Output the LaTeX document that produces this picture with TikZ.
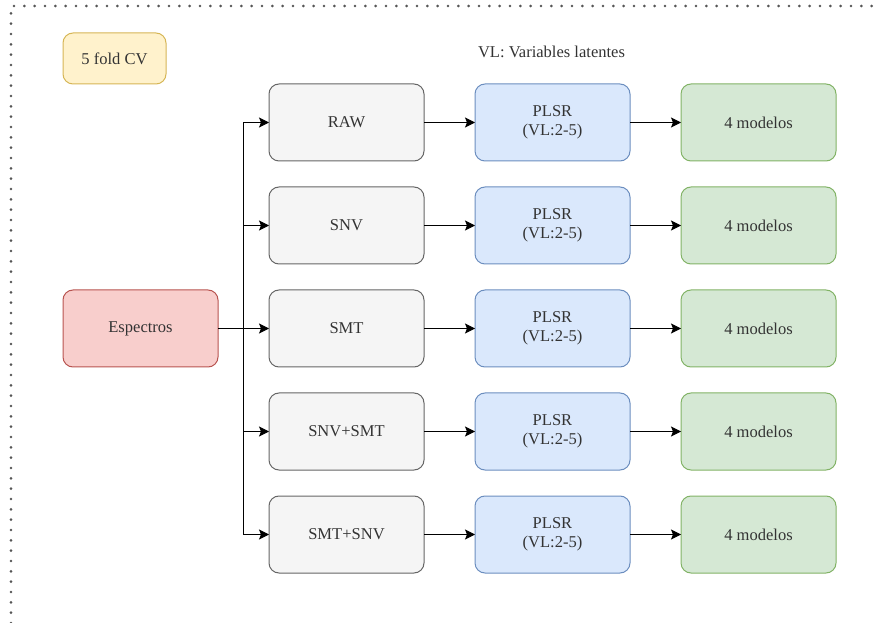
\documentclass[tikz,border=0pt]{standalone}
\usepackage{fontspec}
\setmainfont{Liberation Serif}
\usetikzlibrary{arrows.meta}
\definecolor{grayfill}{HTML}{F5F5F5}
\definecolor{graystroke}{HTML}{666666}
\definecolor{graytext}{HTML}{333333}
\definecolor{bluefill}{HTML}{DAE8FC}
\definecolor{bluestroke}{HTML}{6C8EBF}
\definecolor{greenfill}{HTML}{D5E8D4}
\definecolor{greenstroke}{HTML}{82B366}
\definecolor{redfill}{HTML}{F8CECC}
\definecolor{redstroke}{HTML}{B85450}
\definecolor{yellowfill}{HTML}{FFF2CC}
\definecolor{yellowstroke}{HTML}{D6B656}
\definecolor{dotcol}{HTML}{555555}
\begin{document}
\begin{tikzpicture}[x=0.75pt,y=-0.75pt,
  font=\fontsize{12.4pt}{14.5pt}\selectfont,
  box/.style={rounded corners=7.5pt,line width=0.75pt,minimum width=116.25pt,minimum height=57.75pt,align=center,inner sep=2pt,outer sep=0pt},
  graybox/.style={box,fill=grayfill,draw=graystroke,text=graytext},
  bluebox/.style={box,fill=bluefill,draw=bluestroke,text=graytext},
  greenbox/.style={box,fill=greenfill,draw=greenstroke,text=graytext},
  redbox/.style={box,fill=redfill,draw=redstroke,text=graytext},
  yellowbox/.style={rounded corners=7.5pt,line width=0.75pt,minimum width=77.25pt,minimum height=38.25pt,fill=yellowfill,draw=yellowstroke,text=graytext,outer sep=0pt},
  arr/.style={line width=0.75pt,-{Stealth[length=7.5pt,width=7.5pt,inset=1.5pt]}},
  lin/.style={line width=0.75pt}
]
\useasboundingbox (0,0) rectangle (878,623);
% dotted frame
\draw[dotcol,line width=2.2pt,dash pattern=on 0pt off 7.75pt,line cap=round] (11,623) -- (11,6) -- (878,6);

\node[yellowbox] (cv) at (114.5,58.5) {5 fold CV};
\node[text=graytext] (vl) at (551.5,52) {VL: Variables latentes};

\node[redbox] (esp) at (140.5,328.5) {Espectros};

\node[graybox] (g1) at (346.5,122.5) {RAW};
\node[graybox] (g2) at (346.5,225.5) {SNV};
\node[graybox] (g3) at (346.5,328.5) {SMT};
\node[graybox] (g4) at (346.5,431.5) {SNV+SMT};
\node[graybox] (g5) at (346.5,534.5) {SMT+SNV};

\foreach \i/\y in {1/122.5,2/225.5,3/328.5,4/431.5,5/534.5}{
  \node[bluebox] (b\i) at (552.5,\y) {PLSR\\(VL:2-5)};
  \node[greenbox] (m\i) at (758.5,\y) {4 modelos};
  \draw[arr] (g\i) -- (b\i);
  \draw[arr] (b\i) -- (m\i);
}

\coordinate (trunk) at (243,328.5);
\draw[arr] (esp) -- (g3);
\draw[arr] (trunk) |- (g1.west);
\draw[arr] (trunk) |- (g2.west);
\draw[arr] (trunk) |- (g4.west);
\draw[arr] (trunk) |- (g5.west);
\end{tikzpicture}
\end{document}
